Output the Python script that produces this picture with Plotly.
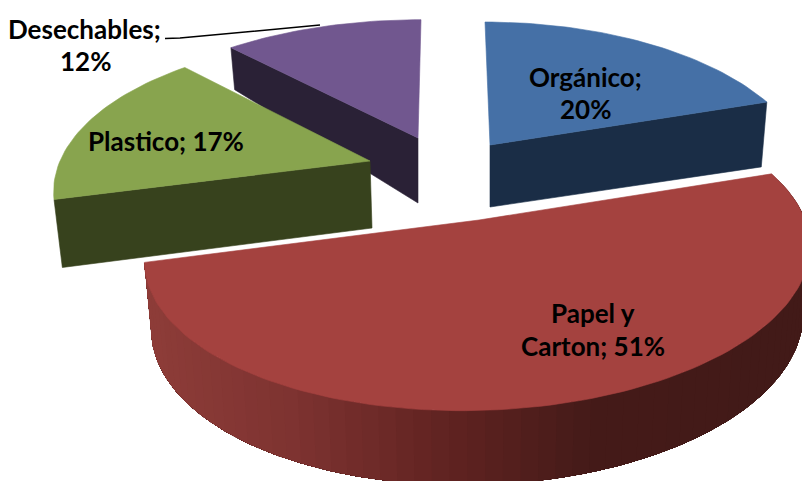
import math
import plotly.graph_objects as go

categories = ["Orgánico", "Papel y Carton", "Plastico", "Desechables"]
values = [20, 51, 17, 12]

top_colors = ["#4570A6", "#A4423F", "#88A44E", "#71578F"]
side_colors = ["#1A2D46", None, "#37421D", "#2A2136"]

# projection settings for each exploded slice (layout, in pixels)
slices = [
    dict(ax=490, ay=145, A=311, k=147.6, d=5.0, sh=30, D=62, g=-0.15, bx=0, tilt=0),
    dict(ax=479, ay=220, A=325, k=150, d=4.7, sh=-40, D=66, g=0.13, bx=0, tilt=0.009),
    dict(ax=370, ay=161, A=310, k=147, d=5.0, sh=0, D=67, g=0.06, bx=2, tilt=0),
    dict(ax=418, ay=138, A=317, k=142, d=5.0, sh=-18, D=65, g=0.486, bx=0, tilt=0),
]
SHRINK = 0.98
red_stops = [(150, (142, 61, 57)), (300, (126, 51, 49)), (470, (94, 34, 32)),
             (600, (69, 27, 25)), (810, (66, 26, 24))]
draw_order = [3, 2, 0, 1]


def top_point(p, deg):
    th = math.radians(deg)
    Y = math.cos(th)
    s = p["d"] / (p["d"] + Y)
    x = p["ax"] + (math.sin(th) * p["A"] + p["sh"]) * s - p["sh"]
    return (x, p["ay"] - p["k"] * Y * s - p["tilt"] * (x - p["ax"]))


def low_point(p, deg):
    x, y = top_point(p, deg)
    Y = math.cos(math.radians(deg))
    return (p["ax"] + p["bx"] + (x - p["ax"]) * SHRINK, y + p["D"] * (1 - p["g"] * Y))


def arc(a, b, step=1.5):
    n = max(2, int(abs(b - a) / step))
    return [a + (b - a) * i / n for i in range(n + 1)]


def shade(x):
    for (x0, c0), (x1, c1) in zip(red_stops, red_stops[1:]):
        if x <= x1:
            t = max(0, (x - x0) / (x1 - x0))
            return "rgb(%d,%d,%d)" % tuple(c0[i] + (c1[i] - c0[i]) * t for i in range(3))
    return "rgb(%d,%d,%d)" % red_stops[-1][1]


def poly(pts, color, name, width=0.6):
    xs = [q[0] for q in pts] + [pts[0][0]]
    ys = [q[1] for q in pts] + [pts[0][1]]
    return go.Scatter(x=xs, y=ys, mode="lines", fill="toself", fillcolor=color,
                      line=dict(color=color, width=width), hoverinfo="skip", name=name, showlegend=False)


starts = [0]
for v in values:
    starts.append(starts[-1] + v * 360 / sum(values))

fig = go.Figure()
for i in draw_order:
    p, a, b = slices[i], starts[i], starts[i + 1]
    apex = (p["ax"], p["ay"])
    apex_low = (p["ax"] + p["bx"], p["ay"] + p["D"])
    if i == 1:  # outer wall: each band is painted over the remaining wall, so no seams show
        sweep = arc(a, b, 2.5)
        rest = arc(a, b, 1.0)
        for u in sweep[:-1]:
            part = [t for t in rest if t > u]
            pts = [top_point(p, t) for t in [u] + part] + [low_point(p, t) for t in reversed([u] + part)]
            fig.add_trace(poly(pts, shade(top_point(p, u)[0]), categories[i], 0))
    else:  # cut face towards the viewer
        edge = {0: b, 2: a, 3: a}[i]
        fig.add_trace(poly([apex, top_point(p, edge), low_point(p, edge), apex_low],
                           side_colors[i], categories[i]))
    fig.add_trace(poly([apex] + [top_point(p, t) for t in arc(a, b)], top_colors[i], categories[i]))

# leader line of the Desechables label
fig.add_trace(go.Scatter(x=[165, 180, 320], y=[38.5, 38, 25], mode="lines",
                         line=dict(color="black", width=1.5), hoverinfo="skip", showlegend=False))

labels = [f"{c}; {v}%" for c, v in zip(categories, values)]
label_lines = [
    (labels[0].split(" ")[0], 585, 77), (labels[0].split(" ")[1], 585, 109),
    (labels[1][:7], 593, 313), (labels[1][8:], 593, 346),
    (labels[2], 166, 141),
    (labels[3].split(" ")[0], 84, 29), (labels[3].split(" ")[1], 85, 61),
]
for text, x, y in label_lines:
    fig.add_annotation(x=x, y=y, text=f"<b>{text}</b>", showarrow=False, xref="x", yref="y",
                       font=dict(family="Lato", size=26, color="black"))

fig.update_layout(width=802, height=481, margin=dict(l=0, r=0, t=0, b=0),
                  paper_bgcolor="white", plot_bgcolor="white", showlegend=False,
                  xaxis=dict(range=[0, 802], visible=False, fixedrange=True),
                  yaxis=dict(range=[481, 0], visible=False, fixedrange=True))
fig.write_html("out.html", config=dict(displayModeBar=False),
               post_script="document.body.style.margin='0';document.documentElement.style.overflow='hidden';")
